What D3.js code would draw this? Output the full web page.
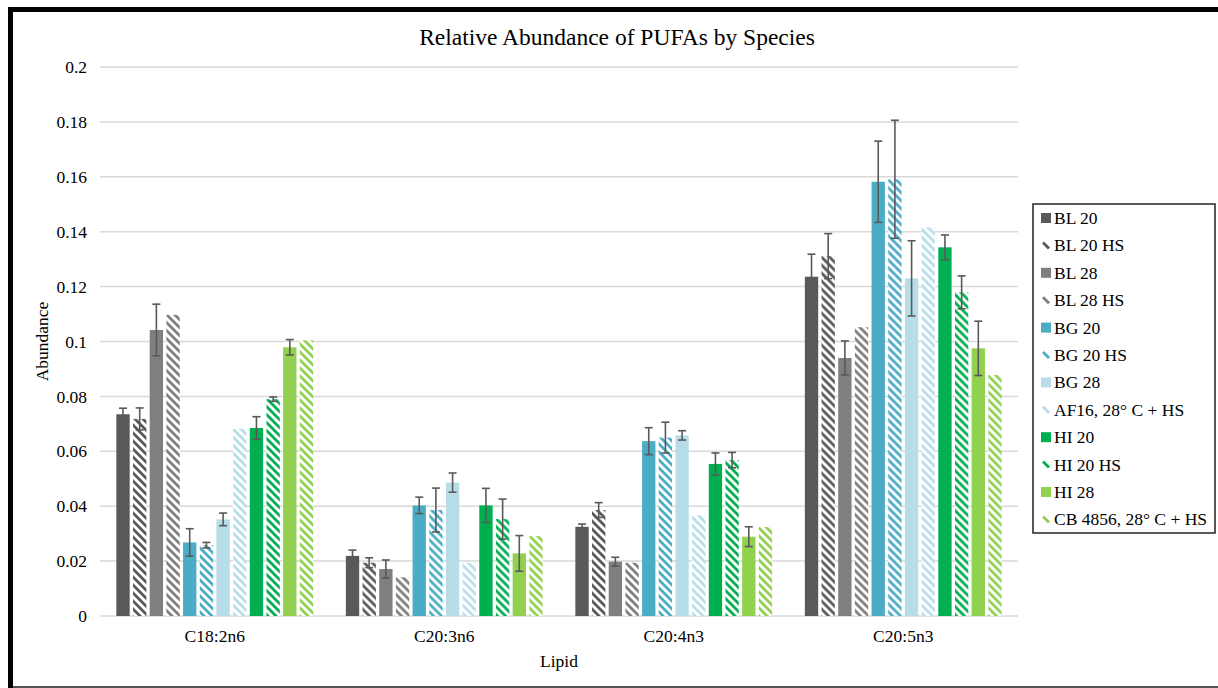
<!DOCTYPE html>
<html lang="en">
<head>
<meta charset="UTF-8" />
<title>Relative Abundance of PUFAs by Species</title>
<style>
  body { margin: 0; background: #fff; }
  svg { display: block; font-family: "Liberation Serif", "Times New Roman", serif; }
</style>
</head>
<body>
<script src="https://cdn.jsdelivr.net/npm/d3@7"></script>
<script>

var lipids = ["C18:2n6", "C20:3n6", "C20:4n3", "C20:5n3"];
var series = ["BL 20", "BL 20 HS", "BL 28", "BL 28 HS", "BG 20", "BG 20 HS",
              "BG 28", "AF16, 28° C + HS", "HI 20", "HI 20 HS", "HI 28", "CB 4856, 28° C + HS"];
var colors = ["#595959", "#595959", "#7f7f7f", "#7f7f7f", "#4bacc6", "#4bacc6",
              "#b7dee8", "#b7dee8", "#00b050", "#00b050", "#92d050", "#92d050"];
var hatched = [false, true, false, true, false, true, false, true, false, true, false, true];

// one array per series, values per lipid
var bl20   = [0.0735, 0.0219, 0.0325, 0.1236];
var bl20hs = [0.0718, 0.0194, 0.0386, 0.1311];
var bl28   = [0.1042, 0.0171, 0.0198, 0.0940];
var bl28hs = [0.1097, 0.0141, 0.0194, 0.1052];
var bg20   = [0.0268, 0.0403, 0.0637, 0.1582];
var bg20hs = [0.0258, 0.0386, 0.0650, 0.1591];
var bg28   = [0.0352, 0.0486, 0.0658, 0.1230];
var af16   = [0.0682, 0.0194, 0.0367, 0.1416];
var hi20   = [0.0685, 0.0403, 0.0554, 0.1343];
var hi20hs = [0.0790, 0.0353, 0.0568, 0.1179];
var hi28   = [0.0979, 0.0228, 0.0289, 0.0975];
var cb4856 = [0.1004, 0.0291, 0.0324, 0.0878];

// error bar half-widths (null = no error bar)
var bl20Err   = [0.0022, 0.0021, 0.0010, 0.0082];
var bl20hsErr = [0.0040, 0.0018, 0.0027, 0.0082];
var bl28Err   = [0.0094, 0.0033, 0.0016, 0.0062];
var bg20Err   = [0.0050, 0.0030, 0.0049, 0.0148];
var bg20hsErr = [0.0010, 0.0080, 0.0056, 0.0215];
var bg28Err   = [0.0023, 0.0035, 0.0017, 0.0137];
var hi20Err   = [0.0041, 0.0062, 0.0040, 0.0045];
var hi20hsErr = [0.0008, 0.0073, 0.0028, 0.0060];
var hi28Err   = [0.0028, 0.0065, 0.0036, 0.0099];

var values = [bl20, bl20hs, bl28, bl28hs, bg20, bg20hs, bg28, af16, hi20, hi20hs, hi28, cb4856];
var errors = [bl20Err, bl20hsErr, bl28Err, null, bg20Err, bg20hsErr, bg28Err, null, hi20Err, hi20hsErr, hi28Err, null];

var yTicks = [0, 0.02, 0.04, 0.06, 0.08, 0.1, 0.12, 0.14, 0.16, 0.18, 0.2];

var w = 1218, h = 688;
var plotL = 100, plotR = 1018, plotT = 67, plotB = 616;

var svg = d3.select("body").append("svg")
  .attr("width", w)
  .attr("height", h);

// frame
svg.append("rect").attr("x", 8).attr("y", 7).attr("width", w - 8).attr("height", 5).attr("fill", "#000");
svg.append("rect").attr("x", 8).attr("y", 7).attr("width", 5).attr("height", h - 7).attr("fill", "#000");
svg.append("rect").attr("x", 13).attr("y", 686).attr("width", w - 13).attr("height", 2).attr("fill", "#555");

// hatch patterns
var defs = svg.append("defs");
series.forEach(function(s, i) {
  if (!hatched[i]) return;
  var p = defs.append("pattern")
    .attr("id", "hatch" + i)
    .attr("patternUnits", "userSpaceOnUse")
    .attr("width", 8)
    .attr("height", 8);
  p.append("rect").attr("width", 8).attr("height", 8).attr("fill", "#fff");
  p.append("path")
    .attr("d", "M-2,-2L10,10M-2,6L2,10M6,-2L10,2")
    .attr("stroke", colors[i])
    .attr("stroke-width", 2.8);
});

var x0 = d3.scaleBand().domain(lipids).range([plotL, plotR]);
var x1 = d3.scaleBand().domain(series).range([0, x0.bandwidth()])
  .paddingInner(0.2).paddingOuter(0.98);
var y = d3.scaleLinear().domain([0, 0.2]).range([plotB, plotT]);

// gridlines
svg.append("g").selectAll("line")
  .data(yTicks)
  .enter()
  .append("line")
  .attr("x1", plotL).attr("x2", plotR)
  .attr("y1", function(d) { return y(d); })
  .attr("y2", function(d) { return y(d); })
  .attr("stroke", "#d9d9d9")
  .attr("stroke-width", 1.5);

// y axis labels
var yAxis = svg.append("g")
  .attr("transform", "translate(" + (plotL - 13) + ",0)")
  .call(d3.axisLeft(y).tickValues(yTicks).tickSize(0).tickPadding(0).tickFormat(function(d) { return String(+d.toFixed(2)); }));
yAxis.select(".domain").remove();
yAxis.selectAll("text")
  .style("font-family", "Liberation Serif")
  .style("font-size", "17.5px")
  .attr("fill", "#000");

// x axis labels
var xAxis = svg.append("g")
  .attr("transform", "translate(0," + plotB + ")")
  .call(d3.axisBottom(x0).tickSize(0).tickPadding(14));
xAxis.select(".domain").remove();
xAxis.selectAll("text")
  .style("font-family", "Liberation Serif")
  .style("font-size", "17.5px")
  .attr("fill", "#000");

// bars
var groups = svg.append("g").selectAll("g")
  .data(lipids)
  .enter()
  .append("g")
  .attr("transform", function(d) { return "translate(" + x0(d) + ",0)"; });

groups.selectAll("rect")
  .data(function(d, li) {
    return series.map(function(s, si) { return { s: s, si: si, v: values[si][li] }; });
  })
  .enter()
  .append("rect")
  .attr("x", function(d) { return x1(d.s); })
  .attr("y", function(d) { return y(d.v); })
  .attr("width", x1.bandwidth())
  .attr("height", function(d) { return y(0) - y(d.v); })
  .attr("fill", function(d) { return hatched[d.si] ? "url(#hatch" + d.si + ")" : colors[d.si]; });

// error bars
var errData = [];
lipids.forEach(function(l, li) {
  series.forEach(function(s, si) {
    if (errors[si]) errData.push({ l: l, s: s, v: values[si][li], e: errors[si][li] });
  });
});

var eb = svg.append("g").selectAll("g")
  .data(errData)
  .enter()
  .append("g")
  .attr("stroke", "#595959")
  .attr("stroke-width", 1.6);

function cx(d) { return x0(d.l) + x1(d.s) + x1.bandwidth() / 2; }

eb.append("line")
  .attr("x1", cx).attr("x2", cx)
  .attr("y1", function(d) { return y(d.v + d.e); })
  .attr("y2", function(d) { return y(d.v - d.e); });
eb.append("line")
  .attr("x1", function(d) { return cx(d) - 4; }).attr("x2", function(d) { return cx(d) + 4; })
  .attr("y1", function(d) { return y(d.v + d.e); })
  .attr("y2", function(d) { return y(d.v + d.e); });
eb.append("line")
  .attr("x1", function(d) { return cx(d) - 4; }).attr("x2", function(d) { return cx(d) + 4; })
  .attr("y1", function(d) { return y(d.v - d.e); })
  .attr("y2", function(d) { return y(d.v - d.e); });

// title and axis titles
svg.append("text")
  .attr("x", 617)
  .attr("y", 45)
  .attr("text-anchor", "middle")
  .style("font-size", "23.5px")
  .text("Relative Abundance of PUFAs by Species");

svg.append("text")
  .attr("x", (plotL + plotR) / 2)
  .attr("y", 667)
  .attr("text-anchor", "middle")
  .style("font-size", "17.5px")
  .text("Lipid");

svg.append("text")
  .attr("transform", "translate(48," + ((plotT + plotB) / 2) + ") rotate(-90)")
  .attr("text-anchor", "middle")
  .style("font-size", "17.5px")
  .text("Abundance");

// legend
var legend = svg.append("g");
legend.append("rect")
  .attr("x", 1033).attr("y", 204)
  .attr("width", 182).attr("height", 329)
  .attr("fill", "#fff")
  .attr("stroke", "#222")
  .attr("stroke-width", 1.5);

var items = legend.selectAll("g.item")
  .data(series)
  .enter()
  .append("g")
  .attr("class", "item")
  .attr("transform", function(d, i) { return "translate(1041," + (218 + i * 27.4) + ")"; });

// solid swatches are squares, hatched swatches show one stripe
items.filter(function(d, i) { return !hatched[i]; })
  .append("rect")
  .attr("x", 0).attr("y", -5)
  .attr("width", 10).attr("height", 10)
  .attr("fill", function(d) { return colors[series.indexOf(d)]; });

items.filter(function(d, i) { return hatched[i]; })
  .append("line")
  .attr("x1", 2).attr("y1", -3)
  .attr("x2", 8).attr("y2", 3)
  .attr("stroke", function(d) { return colors[series.indexOf(d)]; })
  .attr("stroke-width", 2.8);

items.append("text")
  .attr("x", 13)
  .attr("y", 6)
  .style("font-size", "17.5px")
  .text(function(d) { return d; });

</script>
</body>
</html>
